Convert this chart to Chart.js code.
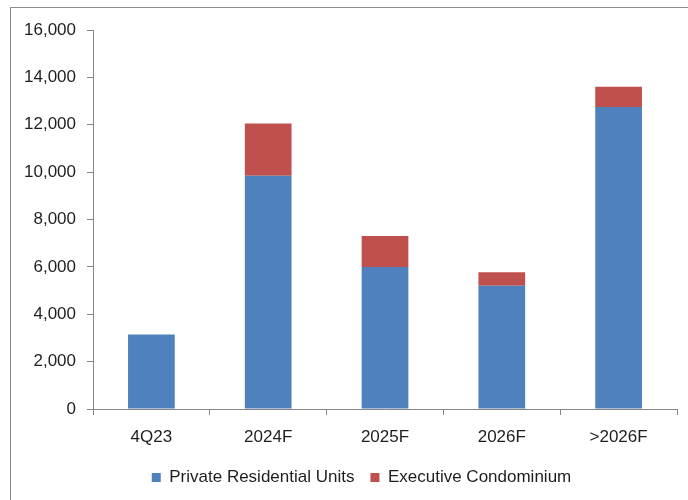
<!DOCTYPE html>
<html lang="en">
<head>
<meta charset="UTF-8">
<title>Private residential supply pipeline</title>
<script src="https://cdn.jsdelivr.net/npm/chart.js"></script>
<style>
    html, body { margin: 0; padding: 0; background: #ffffff; }
    .wrap { position: relative; width: 688px; height: 500px; overflow: hidden; }
    .frame {
        position: absolute; left: 10px; top: 7px; width: 700px; height: 520px;
        border-left: 1px solid #8c8c8c; border-top: 1px solid #8c8c8c;
    }
    canvas { position: absolute; left: 0; top: 0; }
</style>
</head>
<body>
<div class="wrap">
    <div class="frame"></div>
    <canvas id="supplyChart" width="688" height="500"></canvas>
</div>
<script>
    // values
    const periods = ['4Q23', '2024F', '2025F', '2026F', '>2026F'];
    const privateUnits = [3150, 9850, 6000, 5200, 12750];
    const ecUnits = [0, 2200, 1300, 570, 850];
    const yTicks = [0, 2000, 4000, 6000, 8000, 10000, 12000, 14000, 16000];

    const axisGrey = '#868686';
    const fontFamily = '"Liberation Sans", Arial, sans-serif';

    // the original legend sits a bit right of the canvas centre
    const legendShift = {
        id: 'legendShift',
        afterLayout(chart) {
            chart.legend.left += 23;
            chart.legend.right += 23;
        }
    };

    new Chart(document.getElementById('supplyChart'), {
        type: 'bar',
        data: {
            labels: periods,
            datasets: [{
                label: 'Private Residential Units',
                data: privateUnits,
                backgroundColor: '#4f81bd',
                categoryPercentage: 1,
                barPercentage: 0.4
            }, {
                label: 'Executive Condominium',
                data: ecUnits,
                backgroundColor: '#c0504d',
                categoryPercentage: 1,
                barPercentage: 0.4
            }]
        },
        options: {
            responsive: false,
            animation: false,
            layout: { padding: { top: 30, right: 11, left: 0, bottom: 4 } },
            plugins: {
                tooltip: { enabled: false },
                legend: {
                    position: 'bottom',
                    labels: {
                        boxWidth: 9,
                        boxHeight: 9,
                        padding: 16,
                        color: '#1e1e1e',
                        font: { family: fontFamily, size: 17 }
                    }
                }
            },
            scales: {
                x: {
                    stacked: true,
                    grid: { drawOnChartArea: false, drawTicks: true, tickLength: 6, color: axisGrey, offset: true },
                    border: { color: axisGrey },
                    ticks: { color: '#1e1e1e', padding: 12, font: { family: fontFamily, size: 17 } },
                    afterFit: s => { s.height = 44; }
                },
                y: {
                    stacked: true,
                    min: 0,
                    max: 16000,
                    afterBuildTicks: s => { s.ticks = yTicks.map(v => ({ value: v })); },
                    grid: { drawOnChartArea: false, drawTicks: true, tickLength: 6, color: axisGrey },
                    border: { color: axisGrey },
                    ticks: {
                        color: '#1e1e1e',
                        padding: 11,
                        font: { family: fontFamily, size: 17 },
                        callback: v => v.toLocaleString('en-US')
                    },
                    afterFit: s => { s.width = 93; }
                }
            }
        },
        plugins: [legendShift]
    });
</script>
</body>
</html>
